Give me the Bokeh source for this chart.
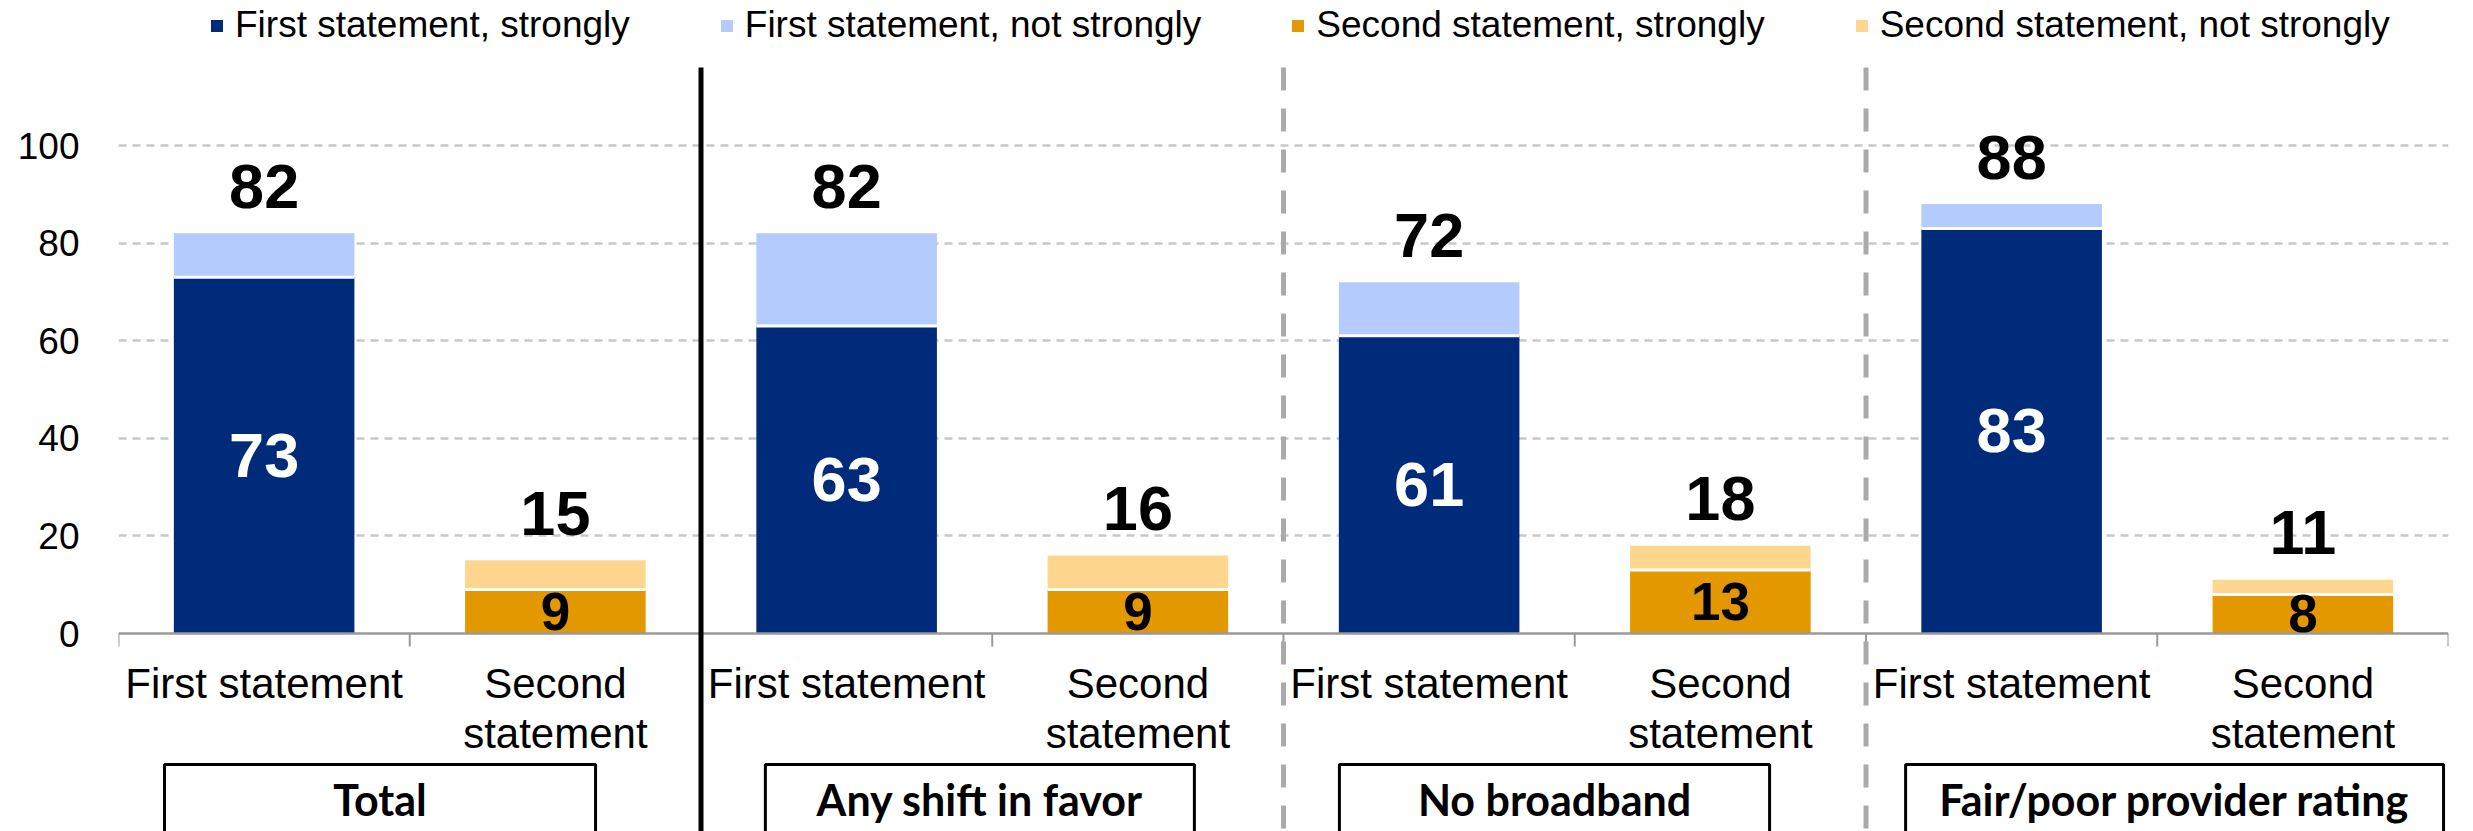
from bokeh.plotting import figure
from bokeh.models import Range1d, FixedTicker, Legend, LegendItem
from bokeh.core.properties import value
from bokeh.embed import file_html
from bokeh.resources import INLINE

# ---------------- data ----------------
groups = ["Total", "Any shift in favor", "No broadband", "Fair/poor provider rating"]
statement_lines = [["First statement"], ["Second", "statement"]]
first_strongly = [73, 63, 61, 83]
first_total = [82, 82, 72, 88]
second_strongly = [9, 9, 13, 8]
second_total = [15, 16, 18, 11]
legend_labels = ["First statement, strongly", "First statement, not strongly",
                 "Second statement, strongly", "Second statement, not strongly"]
y_ticks = [0, 20, 40, 60, 80, 100]

# ---------------- style / layout ----------------
NAVY, LBLUE, ORANGE, LGOLD = "#002A7A", "#B3CCFD", "#E39800", "#FED68D"
FONT = "Liberation Sans"
W, H = 2473, 831
ZERO_PX = 633                    # pixel row of y = 0
PXU = 4.88                       # pixels per data unit
Y1 = ZERO_PX / PXU
Y0 = -(H - ZERO_PX) / PXU
BAR_W = 0.62
n_groups = len(groups)
n_cats = n_groups * 2

# box spans (category units) for the group label boxes
BOX_SPANS = [(0.158, 1.638), (2.221, 3.694), (4.192, 5.669), (6.136, 7.983)]

p = figure(width=W, height=H, output_backend="svg", toolbar_location=None,
           x_range=Range1d(0, n_cats), y_range=Range1d(Y0, Y1),
           x_axis_location=None, min_border_left=118, min_border_right=25,
           min_border_top=0, min_border_bottom=0, outline_line_color=None,
           background_fill_color="white", border_fill_color="white")

# y axis
p.yaxis.ticker = FixedTicker(ticks=y_ticks)
p.yaxis.axis_line_color = None
p.yaxis.major_tick_line_color = None
p.yaxis.minor_tick_line_color = None
p.yaxis.major_tick_out = 0
p.yaxis.major_tick_in = 0
p.yaxis.major_label_standoff = 39
p.yaxis.major_label_text_font = FONT
p.yaxis.major_label_text_font_size = "37px"
p.yaxis.major_label_text_color = "black"

# grid
p.xgrid.visible = False
p.ygrid.ticker = FixedTicker(ticks=[t for t in y_ticks if t > 0])
p.ygrid.grid_line_color = "#C8C8C8"
p.ygrid.grid_line_width = 2.5
p.ygrid.grid_line_dash = "8 6"

# bars
first_x = [2 * g + 0.5 for g in range(n_groups)]
second_x = [2 * g + 1.5 for g in range(n_groups)]

r_fn = p.vbar(x=first_x, bottom=first_strongly, top=first_total, width=BAR_W,
              fill_color=LBLUE, line_color=None)
r_fs = p.vbar(x=first_x, bottom=0, top=first_strongly, width=BAR_W,
              fill_color=NAVY, line_color=None)
r_sn = p.vbar(x=second_x, bottom=second_strongly, top=second_total, width=BAR_W,
              fill_color=LGOLD, line_color=None)
r_ss = p.vbar(x=second_x, bottom=0, top=second_strongly, width=BAR_W,
              fill_color=ORANGE, line_color=None)

# white separators between segments
all_x = first_x + second_x
all_strong = first_strongly + second_strongly
all_tot = first_total + second_total
p.segment(x0=[x - BAR_W / 2 for x in all_x], x1=[x + BAR_W / 2 for x in all_x],
          y0=all_strong, y1=all_strong, line_color="white", line_width=3)

# axis line and ticks at y=0
p.segment(x0=[0], x1=[n_cats], y0=[0], y1=[0], line_color="#9A9A9A", line_width=2.5)
tick_x = list(range(n_cats + 1))
p.segment(x0=tick_x, x1=tick_x, y0=[0] * len(tick_x), y1=[-13 / PXU] * len(tick_x),
          line_color="#9A9A9A", line_width=2)

# group separators
sep_top = 116
p.segment(x0=[2], x1=[2], y0=[sep_top], y1=[Y0 - 5], line_color="black", line_width=5)
p.segment(x0=[4, 6], x1=[4, 6], y0=[sep_top] * 2, y1=[Y0 - 5] * 2,
          line_color="#AAAAAA", line_width=5, line_dash="23 18")

# total labels above bars
p.text(x=all_x, y=[t + 47 / PXU for t in all_tot], text=[str(t) for t in all_tot],
       text_align="center", text_baseline="middle", text_font=value(FONT),
       text_font_style="bold", text_font_size="63px", text_color="black")

# inner labels
p.text(x=first_x, y=[v / 2 for v in first_strongly],
       text=[str(v) for v in first_strongly], text_align="center",
       text_baseline="middle", text_font=value(FONT), text_font_style="bold",
       text_font_size="63px", text_color="white")
p.text(x=second_x, y=[v / 2 for v in second_strongly],
       text=[str(v) for v in second_strongly], text_align="center",
       text_baseline="middle", text_font=value(FONT), text_font_style="bold",
       text_font_size="53px", text_color="black")

# category labels
cx, cy, ct = [], [], []
for g in range(n_groups):
    for s, lines in enumerate(statement_lines):
        for k, line in enumerate(lines):
            cx.append(2 * g + s + 0.5)
            cy.append((-50 - 50 * k) / PXU)
            ct.append(line)
p.text(x=cx, y=cy, text=ct, text_align="center", text_baseline="middle",
       text_font=value(FONT), text_font_size="42px", text_color="black")

# group boxes and labels
p.quad(left=[b[0] for b in BOX_SPANS], right=[b[1] for b in BOX_SPANS],
       top=[-131 / PXU] * n_groups, bottom=[Y0 - 5] * n_groups,
       fill_color=None, line_color="black", line_width=3)
p.text(x=[(b[0] + b[1]) / 2 for b in BOX_SPANS], y=[-166 / PXU] * n_groups, text=groups,
       text_align="center", text_baseline="middle", text_font=value("Lato"),
       text_font_style="bold", text_font_size="43px", text_color="black")

# legend
legend = Legend(items=[LegendItem(label=legend_labels[0], renderers=[r_fs]),
                       LegendItem(label=legend_labels[1], renderers=[r_fn]),
                       LegendItem(label=legend_labels[2], renderers=[r_ss]),
                       LegendItem(label=legend_labels[3], renderers=[r_sn])],
                orientation="horizontal", location=(91, 785),
                glyph_width=15, glyph_height=15, label_standoff=11, spacing=89,
                padding=0, margin=0, border_line_color=None,
                background_fill_alpha=0, label_text_font=FONT,
                label_text_font_size="37px", label_text_color="black")
p.add_layout(legend)

open("out.html", "w").write(file_html(p, INLINE))
